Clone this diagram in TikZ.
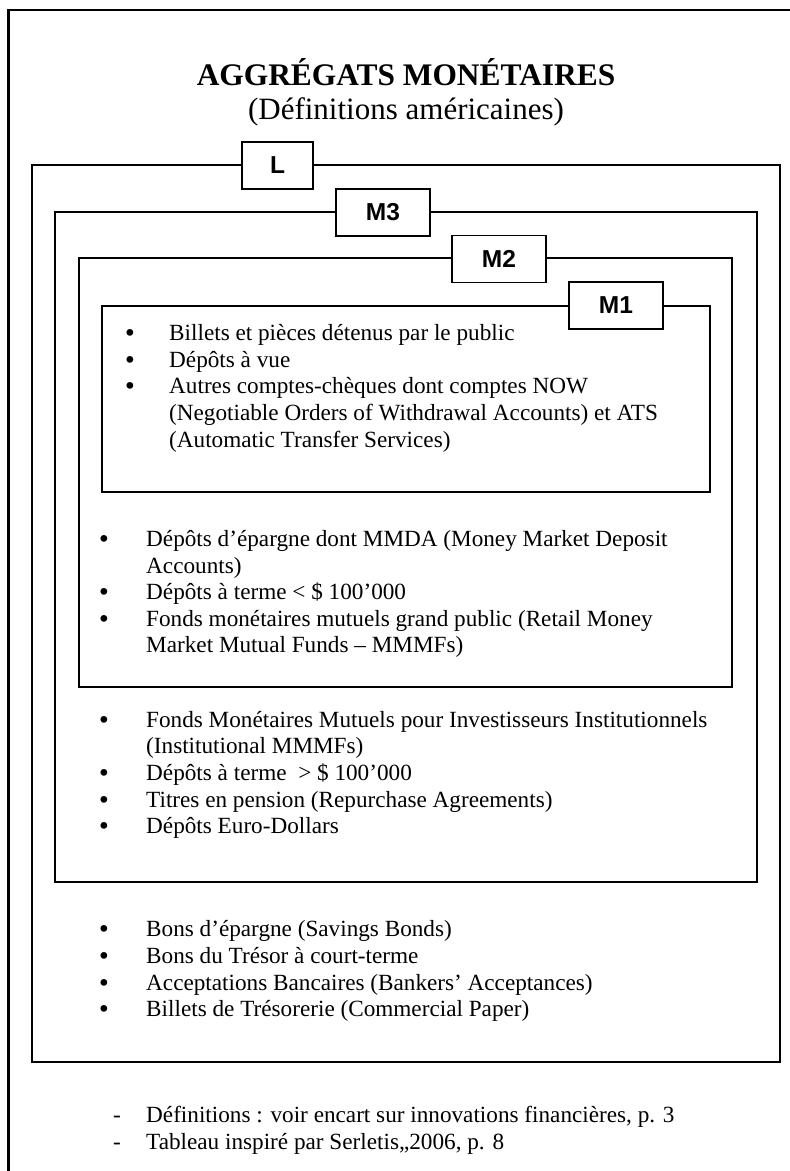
\documentclass[tikz,border=0pt]{standalone}
\usepackage{fontspec}
\setmainfont{Liberation Serif}
\newfontfamily\labfont{Liberation Sans}
\newfontfamily\bulfont{DejaVu Sans}
\begin{document}
\begin{tikzpicture}[x=1pt,y=-1pt,
  frame/.style={draw=black,line width=2pt},
  outerframe/.style={draw=black,line width=2.6pt},
  labbox/.style={draw=black,line width=1.8pt,fill=white,minimum width=94pt,minimum height=47pt,inner sep=0pt,font=\labfont\bfseries\fontsize{24.5}{26}\selectfont},
  txt/.style={anchor=base west,inner sep=0pt,font=\fontsize{23.2}{26.7}\selectfont},
  bul/.style={anchor=base,inner sep=0pt,font=\bulfont\fontsize{23.2}{26.7}\selectfont},
  dsh/.style={anchor=base,inner sep=0pt,font=\fontsize{23.2}{26.7}\selectfont},
  title/.style={anchor=base,inner sep=0pt,font=\bfseries\fontsize{31.4}{36}\selectfont},
  subtitle/.style={anchor=base,inner sep=0pt,font=\fontsize{31}{36}\selectfont}]
\useasboundingbox (0,0) rectangle (790,1171);
% outer frame (cut off at right and bottom)
\draw[outerframe] (790,10) -- (8.5,10) -- (8.5,1171);
% title
\node[title] (t1) at (406,85) {AGGRÉGATS MONÉTAIRES};
\node[subtitle] (t2) at (406,119) {(Définitions américaines)};
% nested frames
\draw[frame] (32,165) rectangle (780,1062);
\draw[frame] (55,212) rectangle (757,882);
\draw[frame] (79,258) rectangle (732,687);
\draw[frame] (102,305.5) rectangle (710,492);
% labels
\node[labbox,minimum width=71pt] (L) at (277.5,165.5) {L};
\node[labbox] (M3) at (383,212.5) {M3};
\node[labbox] (M2) at (499,259) {M2};
\node[labbox] (M1) at (616,305.5) {M1};
% M1 contents
\node[bul] (b11) at (130,341) {•};
\node[txt] (m11) at (169,340) {Billets et pièces détenus par le public};
\node[bul] (b12) at (130,368) {•};
\node[txt] (m12) at (169,367) {Dépôts à vue};
\node[bul] (b13) at (130,394) {•};
\node[txt] (m13) at (169,393) {Autres comptes-chèques dont comptes NOW};
\node[txt] (m14) at (169,420) {(Negotiable Orders of Withdrawal Accounts) et ATS};
\node[txt] (m15) at (169,447) {(Automatic Transfer Services)};
% M2 contents
\node[bul] (b21) at (104,547) {•};
\node[txt] (m21) at (146,546) {Dépôts d’épargne dont MMDA (Money Market Deposit};
\node[txt] (m22) at (146,573) {Accounts)};
\node[bul] (b22) at (104,600) {•};
\node[txt] (m23) at (146,599) {Dépôts à terme < \$ 100’000};
\node[bul] (b23) at (104,627) {•};
\node[txt] (m24) at (146,626) {Fonds monétaires mutuels grand public (Retail Money};
\node[txt] (m25) at (146,652) {Market Mutual Funds – MMMFs)};
% M3 contents
\node[bul] (b31) at (104,728) {•};
\node[txt] (m31) at (146,727) {Fonds Monétaires Mutuels pour Investisseurs Institutionnels};
\node[txt] (m32) at (146,753) {(Institutional MMMFs)};
\node[bul] (b32) at (104,781) {•};
\node[txt] (m33) at (146,780) {Dépôts à terme \ > \$ 100’000};
\node[bul] (b33) at (104,808) {•};
\node[txt] (m34) at (146,807) {Titres en pension (Repurchase Agreements)};
\node[bul] (b34) at (104,834) {•};
\node[txt] (m35) at (146,833) {Dépôts Euro-Dollars};
% L contents
\node[bul] (b41) at (104,937) {•};
\node[txt] (l1) at (146,936) {Bons d’épargne (Savings Bonds)};
\node[bul] (b42) at (104,964) {•};
\node[txt] (l2) at (146,963) {Bons du Trésor à court-terme};
\node[bul] (b43) at (104,991) {•};
\node[txt] (l3) at (146,990) {Acceptations Bancaires (Bankers’ Acceptances)};
\node[bul] (b44) at (104,1017) {•};
\node[txt] (l4) at (146,1016) {Billets de Trésorerie (Commercial Paper)};
% footer
\node[dsh] (d1) at (117,1122) {-};
\node[txt] (f1) at (146,1122) {Définitions : voir encart sur innovations financières, p. 3};
\node[dsh] (d2) at (117,1149) {-};
\node[txt] (f2) at (146,1149) {Tableau inspiré par Serletis,,2006, p. 8};
\end{tikzpicture}
\end{document}
